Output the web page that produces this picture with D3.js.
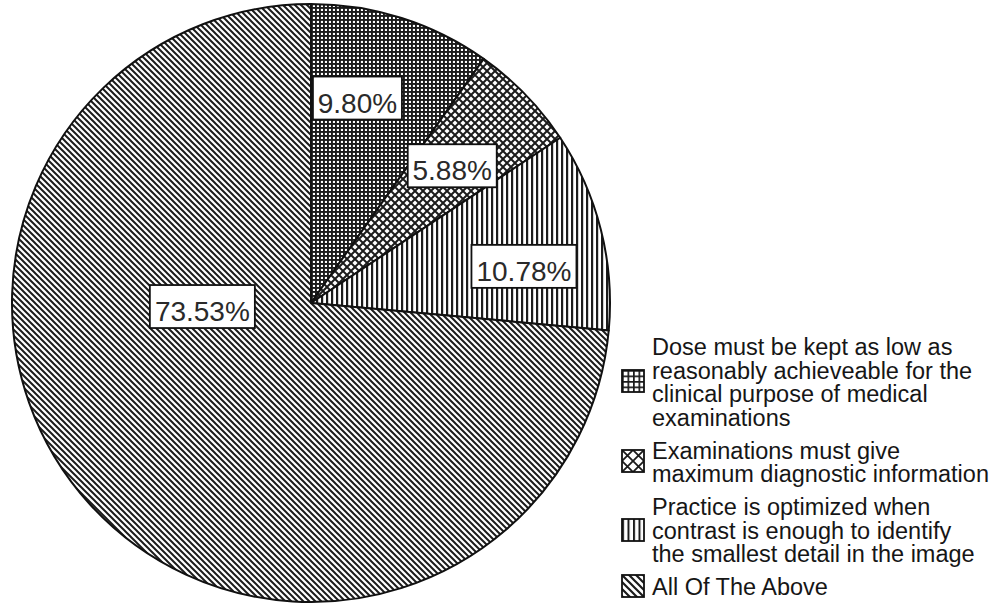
<!DOCTYPE html>
<html>
<head>
<meta charset="utf-8">
<script src="https://cdn.jsdelivr.net/npm/d3@7"></script>
<style>
  html, body { margin: 0; padding: 0; background: #fff; }
  svg { display: block; }
</style>
</head>
<body>
<svg id="chart" width="996" height="605"></svg>
<script>
// ---- data ----
const categories = [
  ["Dose must be kept as low as", "reasonably achieveable for the", "clinical purpose of medical", "examinations"],
  ["Examinations must give", "maximum diagnostic information"],
  ["Practice is optimized when", "contrast is enough to identify", "the smallest detail in the image"],
  ["All Of The Above"]
];
const values = [9.80, 5.88, 10.78, 73.53];
const valueLabels = ["9.80%", "5.88%", "10.78%", "73.53%"];

// ---- layout (not data) ----
const W = 996, H = 605;
const cx = 311, cy = 303, R = 299;
const labelRadiusFrac = 0.7;
const labelNudge = [[-17, -4], [-9, 10], [10, 16], [46, -136]];
const ink = "#1c1c1c";

const svg = d3.select("#chart");
const defs = svg.append("defs");

function pat(id, w, h, x, y) {
  return defs.append("pattern").attr("id", id)
    .attr("patternUnits", "userSpaceOnUse")
    .attr("x", x || 0).attr("y", y || 0)
    .attr("width", w).attr("height", h);
}
// 0: dense square grid
let p = pat("p0", 4, 4);
p.append("rect").attr("width", 4).attr("height", 4).attr("fill", "#fff");
p.append("rect").attr("width", 4).attr("height", 1.9).attr("fill", ink);
p.append("rect").attr("width", 1.9).attr("height", 4).attr("fill", ink);
// 1: diagonal crosshatch
p = pat("p1", 8, 8);
p.append("rect").attr("width", 8).attr("height", 8).attr("fill", "#fff");
p.append("path").attr("d", "M0,0L8,8M8,0L0,8").attr("stroke", ink).attr("stroke-width", 2);
// 2: vertical lines
p = pat("p2", 5, 5);
p.append("rect").attr("width", 5).attr("height", 5).attr("fill", "#fff");
p.append("rect").attr("width", 2.2).attr("height", 5).attr("fill", ink);
// 3: diagonal "\" lines
p = pat("p3", 6, 6);
p.append("rect").attr("width", 6).attr("height", 6).attr("fill", "#fff");
p.append("path").attr("d", "M-1,5L1,7M0,0L6,6M5,-1L7,1").attr("stroke", ink).attr("stroke-width", 2);

const pie = d3.pie().sort(null).value(d => d);
const arcs = pie(values);
const arc = d3.arc().innerRadius(0).outerRadius(R);
const labelArc = d3.arc().innerRadius(R * labelRadiusFrac).outerRadius(R * labelRadiusFrac);

const g = svg.append("g").attr("transform", `translate(${cx},${cy})`);
g.selectAll("path.slice").data(arcs).enter().append("path")
  .attr("class", "slice")
  .attr("d", arc)
  .attr("fill", (d, i) => `url(#p${i})`)
  .attr("stroke", "#111")
  .attr("stroke-width", 2)
  .attr("stroke-linejoin", "round");

// data labels
const lab = g.selectAll("g.lab").data(arcs).enter().append("g").attr("class", "lab")
  .attr("transform", (d, i) => {
    const c = labelArc.centroid(d);
    return `translate(${c[0] + labelNudge[i][0]},${c[1] + labelNudge[i][1]})`;
  });
lab.append("rect").attr("class", "box");
lab.append("text")
  .attr("text-anchor", "middle")
  .attr("y", 13)
  .attr("font-family", "Liberation Sans, Arial, sans-serif")
  .attr("font-size", 28)
  .attr("fill", "#2a2a2a")
  .text((d, i) => valueLabels[i]);
lab.each(function() {
  const t = d3.select(this).select("text").node().getComputedTextLength();
  const w = Math.round(t + 10), h = 43;
  d3.select(this).select("rect")
    .attr("x", -w / 2).attr("y", -h / 2 - 1.5).attr("width", w).attr("height", h)
    .attr("fill", "#fff").attr("stroke", "#111").attr("stroke-width", 1.8);
});

// legend
const lx = 652, sw = 22, sh = 22, lineH = 23.5, gap = 9.5;
let baseline = 355;
const legend = svg.append("g");
categories.forEach((lines, i) => {
  const first = baseline, last = baseline + (lines.length - 1) * lineH;
  const sy = Math.round((first + last) / 2 - 9 - sh / 2);
  const sx = 622;
  const lp = pat("lp" + i, 1, 1, sx, sy);
  if (i === 0) {
    lp.attr("width", 5.5).attr("height", 5.5);
    lp.append("rect").attr("width", 5.5).attr("height", 5.5).attr("fill", "#fff");
    lp.append("rect").attr("width", 5.5).attr("height", 1.7).attr("fill", ink);
    lp.append("rect").attr("width", 1.7).attr("height", 5.5).attr("fill", ink);
  } else if (i === 1) {
    lp.attr("width", 11).attr("height", 11);
    lp.append("rect").attr("width", 11).attr("height", 11).attr("fill", "#fff");
    lp.append("path").attr("d", "M0,0L11,11M11,0L0,11").attr("stroke", ink).attr("stroke-width", 1.8);
  } else if (i === 2) {
    lp.attr("width", 5.5).attr("height", 22);
    lp.append("rect").attr("width", 5.5).attr("height", 22).attr("fill", "#fff");
    lp.append("rect").attr("width", 2).attr("height", 22).attr("fill", ink);
  } else {
    lp.attr("width", 7).attr("height", 7);
    lp.append("rect").attr("width", 7).attr("height", 7).attr("fill", "#fff");
    lp.append("path").attr("d", "M-1,6L1,8M0,0L7,7M6,-1L8,1").attr("stroke", ink).attr("stroke-width", 2.2);
  }
  legend.append("rect")
    .attr("x", sx).attr("y", sy).attr("width", sw).attr("height", sh)
    .attr("fill", `url(#lp${i})`).attr("stroke", "#111").attr("stroke-width", 1.8);
  const t = legend.append("text")
    .attr("font-family", "Liberation Sans, Arial, sans-serif")
    .attr("font-size", 23.5)
    .attr("fill", "#161616");
  lines.forEach((ln, k) => {
    t.append("tspan").attr("x", lx).attr("y", baseline + k * lineH).text(ln);
  });
  baseline = last + lineH + gap;
});
</script>
</body>
</html>
